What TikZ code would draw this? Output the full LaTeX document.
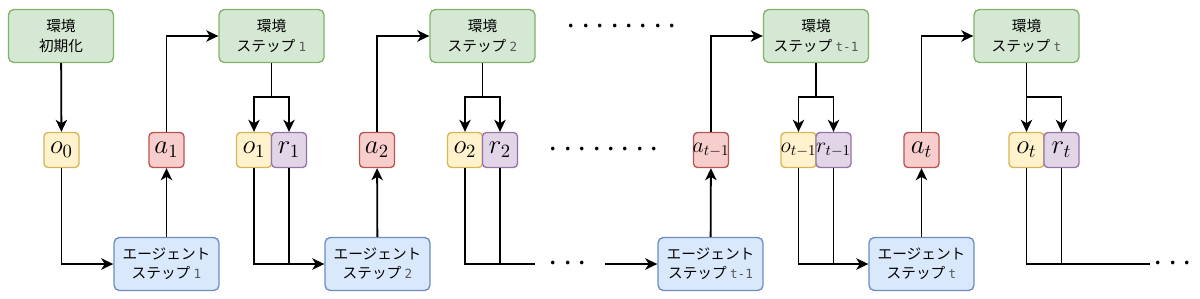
\RequirePackage{fix-cm}
\documentclass[tikz,border=0pt]{standalone}
\usepackage{amsmath}
\usepackage{graphicx}
\usepackage{fontspec}
\setmainfont{Noto Sans CJK JP}
\setmonofont{DejaVu Sans Mono}
\usetikzlibrary{arrows.meta}

\definecolor{envfill}{HTML}{D5E8D4}
\definecolor{envline}{HTML}{82B366}
\definecolor{agtfill}{HTML}{DAE8FC}
\definecolor{agtline}{HTML}{6C8EBF}
\definecolor{obsfill}{HTML}{FFF2CC}
\definecolor{obsline}{HTML}{D6B656}
\definecolor{actfill}{HTML}{F8CECC}
\definecolor{actline}{HTML}{B85450}
\definecolor{rewfill}{HTML}{E1D5E7}
\definecolor{rewline}{HTML}{9673A6}

\newcommand{\stepno}[1]{{\fontsize{9.5}{9.5}\selectfont\ttfamily\color{black!65}#1}}
\newcommand{\onedot}{\makebox[10.8pt]{.}}
\newcommand{\varsym}[1]{\scalebox{1.4}{$#1$}}
\newcommand{\latesym}[1]{\makebox[0pt]{\scalebox{1.13}{$#1$}}}

\begin{document}
\begin{tikzpicture}[x=0.75pt, y=-0.75pt,
	envbox/.style={draw=envline, fill=envfill, rounded corners=4pt, line width=1pt,
		minimum width=78.75pt, minimum height=39.75pt, align=center,
		font=\fontsize{11}{14.5}\selectfont},
	agentbox/.style={envbox, draw=agtline, fill=agtfill},
	varbox/.style={rounded corners=3pt, line width=1pt, minimum width=26.25pt,
		minimum height=26.25pt, inner sep=0pt, font=\fontsize{14.4}{14.4}\selectfont},
	obsbox/.style={varbox, draw=obsline, fill=obsfill},
	actbox/.style={varbox, draw=actline, fill=actfill},
	rewbox/.style={varbox, draw=rewline, fill=rewfill},
	flow/.style={line width=1.35pt, -{Stealth[length=9pt, width=8.5pt, inset=2.5pt]}},
	link/.style={line width=1.35pt},
	dotrow/.style={inner sep=0pt, font=\fontsize{20}{20}\selectfont}]
	\useasboundingbox (0,0) rectangle (1200,298);
	
	% Environment boxes
	\node[envbox] (E0) at (61,36) {環境\\初期化};
	\node[envbox] (E1) at (271.5,36) {環境\\ステップ \stepno{1}};
	\node[envbox] (E2) at (482.5,36) {環境\\ステップ \stepno{2}};
	\node[envbox] (Et1) at (816,36) {環境\\ステップ \stepno{t-1}};
	\node[envbox] (Et) at (1026.5,36) {環境\\ステップ \stepno{t}};
	
	% Agent boxes
	\node[agentbox] (G1) at (166.5,264) {エージェント\\ステップ \stepno{1}};
	\node[agentbox] (G2) at (377.5,264) {エージェント\\ステップ \stepno{2}};
	\node[agentbox] (Gt1) at (710.5,264) {エージェント\\ステップ \stepno{t-1}};
	\node[agentbox] (Gt) at (921.5,264) {エージェント\\ステップ \stepno{t}};
	
	% Observations, actions, rewards
	\node[obsbox] (O0) at (61.5,150) {\varsym{o_0}};
	\node[actbox] (A1) at (166.5,150) {\varsym{a_1}};
	\node[obsbox] (O1) at (254,150) {\varsym{o_1}};
	\node[rewbox] (R1) at (289,150) {\varsym{r_1}};
	\node[actbox] (A2) at (377,150) {\varsym{a_2}};
	\node[obsbox] (O2) at (465,150) {\varsym{o_2}};
	\node[rewbox] (R2) at (500,150) {\varsym{r_2}};
	\node[actbox] (At1) at (711,150) {\latesym{a_{t-1}}};
	\node[obsbox] (Ot1) at (798.5,150) {\latesym{o_{t-1}}};
	\node[rewbox] (Rt1) at (833.5,150) {\latesym{r_{t-1}}};
	\node[actbox] (At) at (921.5,150) {\varsym{a_t}};
	\node[obsbox] (Ot) at (1026.5,150) {\varsym{o_t}};
	\node[rewbox] (Rt) at (1061.5,150) {\varsym{r_t}};
	
	% Dots
	\node[dotrow] (D1) at (622,26) {\onedot\onedot\onedot\onedot\onedot\onedot\onedot\onedot};
	\node[dotrow] (D2) at (604,149) {\onedot\onedot\onedot\onedot\onedot\onedot\onedot\onedot};
	\node[dotrow] (D3) at (568,263) {\onedot\onedot\onedot};
	\node[dotrow] (D4) at (1173,263) {\onedot\onedot\onedot};
	
	% Branch points and loose ends
	\coordinate (K1) at (271.5,97);
	\coordinate (K2) at (482.5,97);
	\coordinate (Kt1) at (816,97);
	\coordinate (Kt) at (1026.5,97);
	\coordinate (B2) at (535,264);
	\coordinate (C2) at (605,264);
	\coordinate (Bt) at (1150,264);
	
	% Environment to observation and reward
	\draw[flow] (E0) -- (O0);
	\draw[link] (E1) -- (K1);
	\draw[flow] (K1) -| (O1);
	\draw[flow] (K1) -| (R1);
	\draw[link] (E2) -- (K2);
	\draw[flow] (K2) -| (O2);
	\draw[flow] (K2) -| (R2);
	\draw[link] (Et1) -- (Kt1);
	\draw[flow] (Kt1) -| (Ot1);
	\draw[flow] (Kt1) -| (Rt1);
	\draw[flow] (Et) -- (Ot);
	\draw[flow] (Kt) -| (Rt);
	
	% Observation and reward to agent
	\draw[flow] (O0) |- (G1);
	\draw[flow] (O1) |- (G2);
	\draw[link] (R1) -- (R1 |- G2);
	\draw[link] (O2) |- (B2);
	\draw[link] (R2) -- (R2 |- B2);
	\draw[flow] (C2) -- (Gt1);
	\draw[flow] (Ot1) |- (Gt);
	\draw[link] (Rt1) -- (Rt1 |- Gt);
	\draw[link] (Ot) |- (Bt);
	\draw[link] (Rt) -- (Rt |- Bt);
	
	% Agent to action to environment
	\draw[flow] (G1) -- (A1);
	\draw[flow] (A1) |- (E1);
	\draw[flow] (G2) -- (A2);
	\draw[flow] (A2) |- (E2);
	\draw[flow] (Gt1) -- (At1);
	\draw[flow] (At1) |- (Et1);
	\draw[flow] (Gt) -- (At);
	\draw[flow] (At) |- (Et);
\end{tikzpicture}
\end{document}
